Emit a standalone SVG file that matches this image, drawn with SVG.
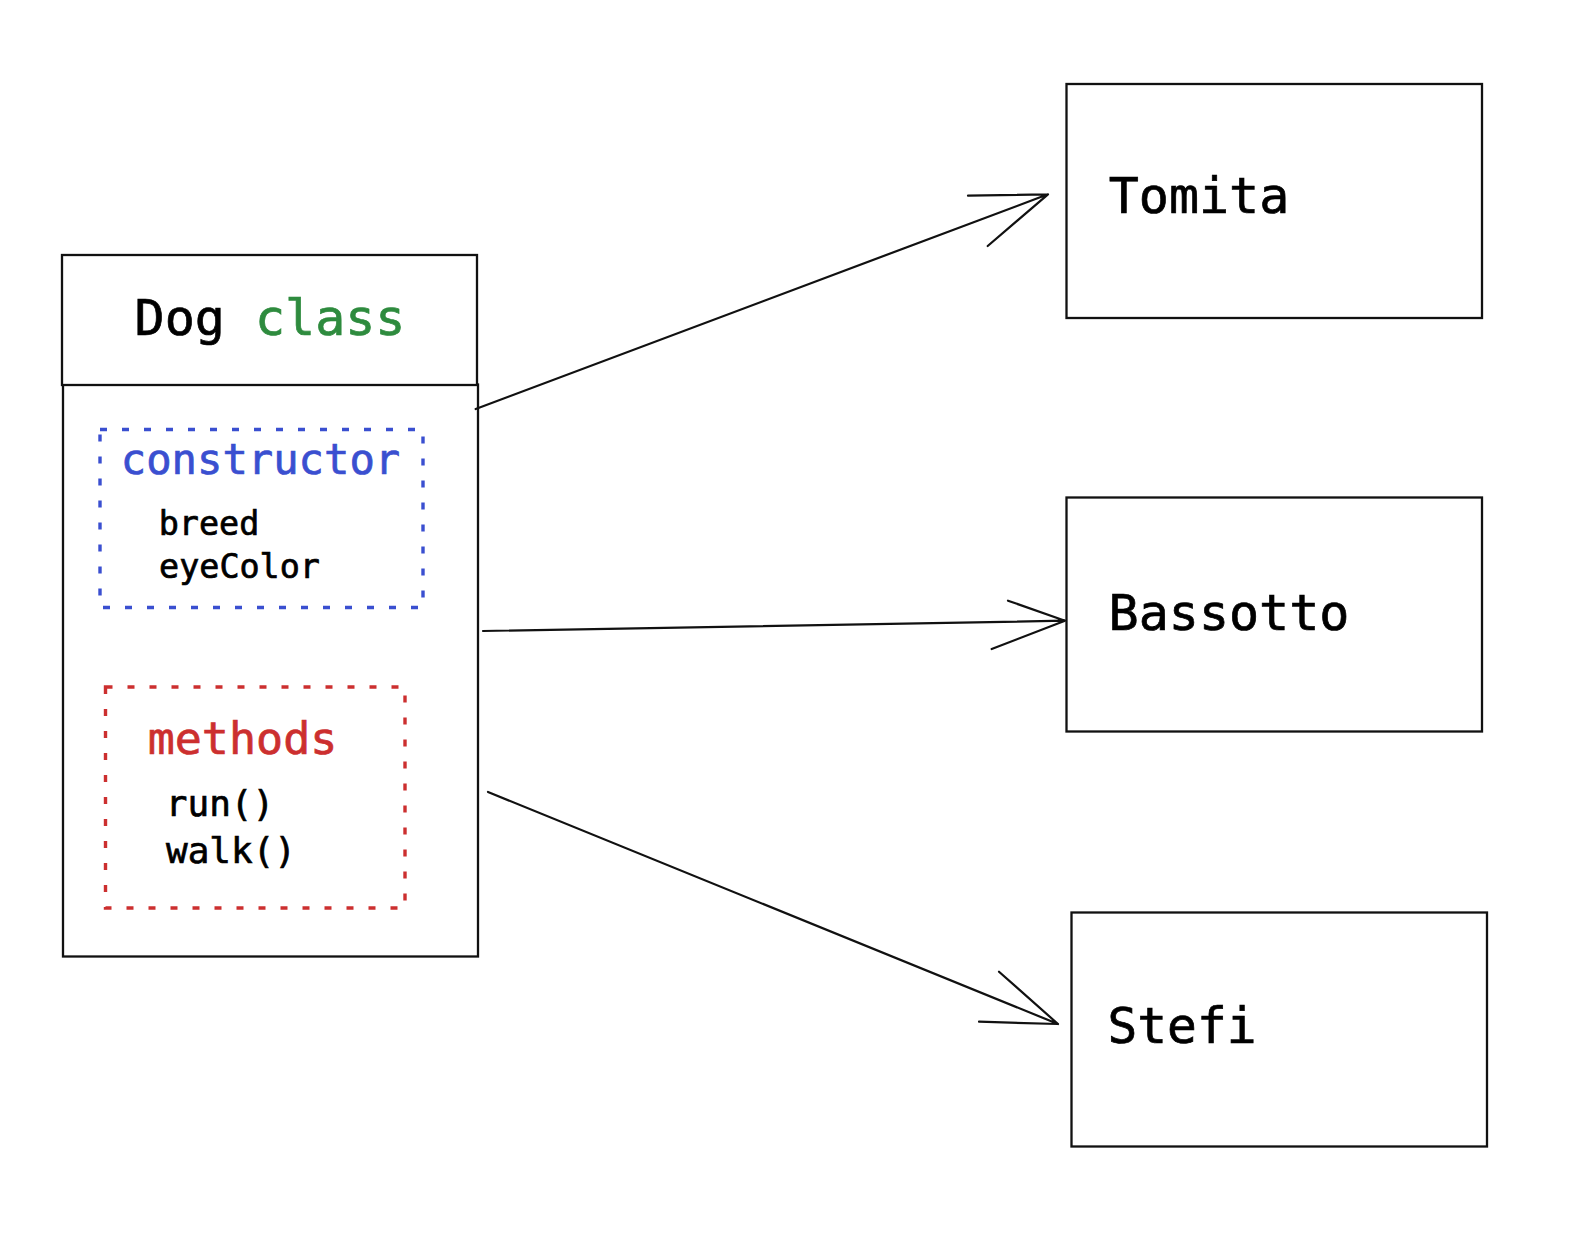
<svg xmlns="http://www.w3.org/2000/svg" width="1574" height="1240" viewBox="0 0 1574 1240">
<style>
.box{fill:#fff;stroke:#111;stroke-width:2.3}
.dot{fill:none;stroke-width:3.4;stroke-dasharray:7 15}
.t{font-family:"DejaVu Sans Mono","Liberation Mono",monospace;fill:#000;stroke:#000;stroke-width:0.7;text-anchor:middle}
.g{fill:#2e8b3e;stroke:#2e8b3e}
.b{fill:#3a4fd0;stroke:#3a4fd0}
.r{fill:#cc2f2f;stroke:#cc2f2f}
.conn path{fill:none;stroke:#111;stroke-width:2.2;stroke-linecap:round;stroke-linejoin:round}
</style>
<rect width="1574" height="1240" fill="#fff"/>
<g id="dog-class">
<rect class="box" x="63" y="384.5" width="415" height="572"/>
<rect class="box" x="62" y="255" width="415" height="130"/>
<text class="t" x="270" y="335" font-size="50">Dog <tspan class="g">class</tspan></text>
<g id="constructor">
<rect class="dot" x="100" y="429.5" width="323" height="178" stroke="#3a4fd0"/>
<text class="t b" x="260.5" y="474" font-size="42.2">constructor</text>
<text class="t" x="209" y="535" font-size="33.4">breed</text>
<text class="t" x="239.5" y="578" font-size="33.4">eyeColor</text>
</g>
<g id="methods">
<rect class="dot" x="105.5" y="687" width="299.5" height="221" stroke="#cc2f2f"/>
<text class="t r" x="242.5" y="754" font-size="45">methods</text>
<text class="t" x="220" y="816" font-size="36">run()</text>
<text class="t" x="231" y="863" font-size="36">walk()</text>
</g>
</g>
<g id="tomita">
<rect class="box" x="1066.5" y="84" width="415.5" height="234"/>
<text class="t" x="1199" y="213" font-size="50">Tomita</text>
</g>
<g id="bassotto">
<rect class="box" x="1066.5" y="497.5" width="415.5" height="234"/>
<text class="t" x="1229" y="630" font-size="50">Bassotto</text>
</g>
<g id="stefi">
<rect class="box" x="1071.5" y="912.5" width="415.5" height="234"/>
<text class="t" x="1182" y="1043" font-size="49.5">Stefi</text>
</g>
<g id="connectors" class="conn">
<path d="M475.7,409 L1048,194.3 M968,195.7 L1048,194.3 L987.7,246"/>
<path d="M483,631 L1065,620.7 M1008,600.7 L1065,620.7 L991.7,649"/>
<path d="M488,792 L1058,1024 M999,971.7 L1058,1024 L979,1021.7"/>
</g>
</svg>
